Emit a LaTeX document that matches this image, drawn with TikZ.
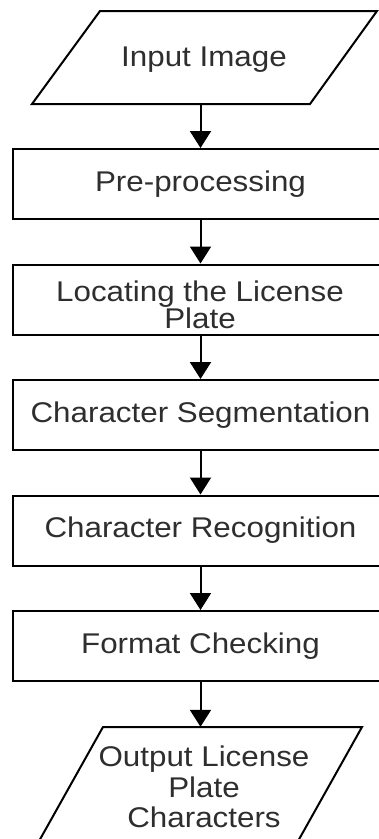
\documentclass[tikz,border=0pt]{standalone}
\usepackage{fontspec}
\setmainfont[FakeStretch=1.1]{Liberation Sans}
\usetikzlibrary{arrows.meta}
\begin{document}
\begin{tikzpicture}[x=1pt,y=-1pt,
  txt/.style={text=black!82, font=\fontsize{28.5}{28}\selectfont, align=center},
  box/.style={txt, draw=black, line width=2pt, minimum width=375pt, minimum height=70pt, inner sep=0pt},
  ghost/.style={inner sep=0pt, minimum width=10pt},
  flow/.style={line width=2pt, -{Triangle[width=21pt,length=17pt]}},
  para/.style={line width=2pt, line join=miter}]
\useasboundingbox (0,0) rectangle (379,839);
\clip (0,0) rectangle (379,839);

% input parallelogram
\draw[para] (100,11) -- (377,11) -- (310,104) -- (32,104) -- cycle;
\node[ghost, minimum height=93pt] (in) at (200.5,57.5) {};
\node[txt] (intext) at (204,60) {Input Image};

% process boxes
\node[box] (pre) at (200.5,184) {\raisebox{-1.5pt}{Pre-processing}};
\node[box] (loc) at (200.5,299.5) {};
\node[txt, font=\fontsize{28.5}{26}\selectfont] (loctext) at (200,305) {Locating the License\\Plate};
\node[box] (seg) at (200.5,415) {\raisebox{-1.5pt}{Character Segmentation}};
\node[box] (rec) at (200.5,530.5) {\raisebox{-1.5pt}{Character Recognition}};
\node[box] (fmt) at (200.5,646) {\raisebox{-1.5pt}{Format Checking}};

% output parallelogram
\draw[para] (103,727) -- (362,727) -- (265,900) -- (6,900) -- cycle;
\node[ghost, minimum height=118pt] (out) at (200.5,786) {};
\node[txt, font=\fontsize{28.5}{30.5}\selectfont] (outtext) at (204,787) {Output License\\Plate\\Characters};

% connectors
\draw[flow] (in.south) -- (pre.north);
\draw[flow] (pre.south) -- (loc.north);
\draw[flow] (loc.south) -- (seg.north);
\draw[flow] (seg.south) -- (rec.north);
\draw[flow] (rec.south) -- (fmt.north);
\draw[flow] (fmt.south) -- (out.north);
\end{tikzpicture}
\end{document}
